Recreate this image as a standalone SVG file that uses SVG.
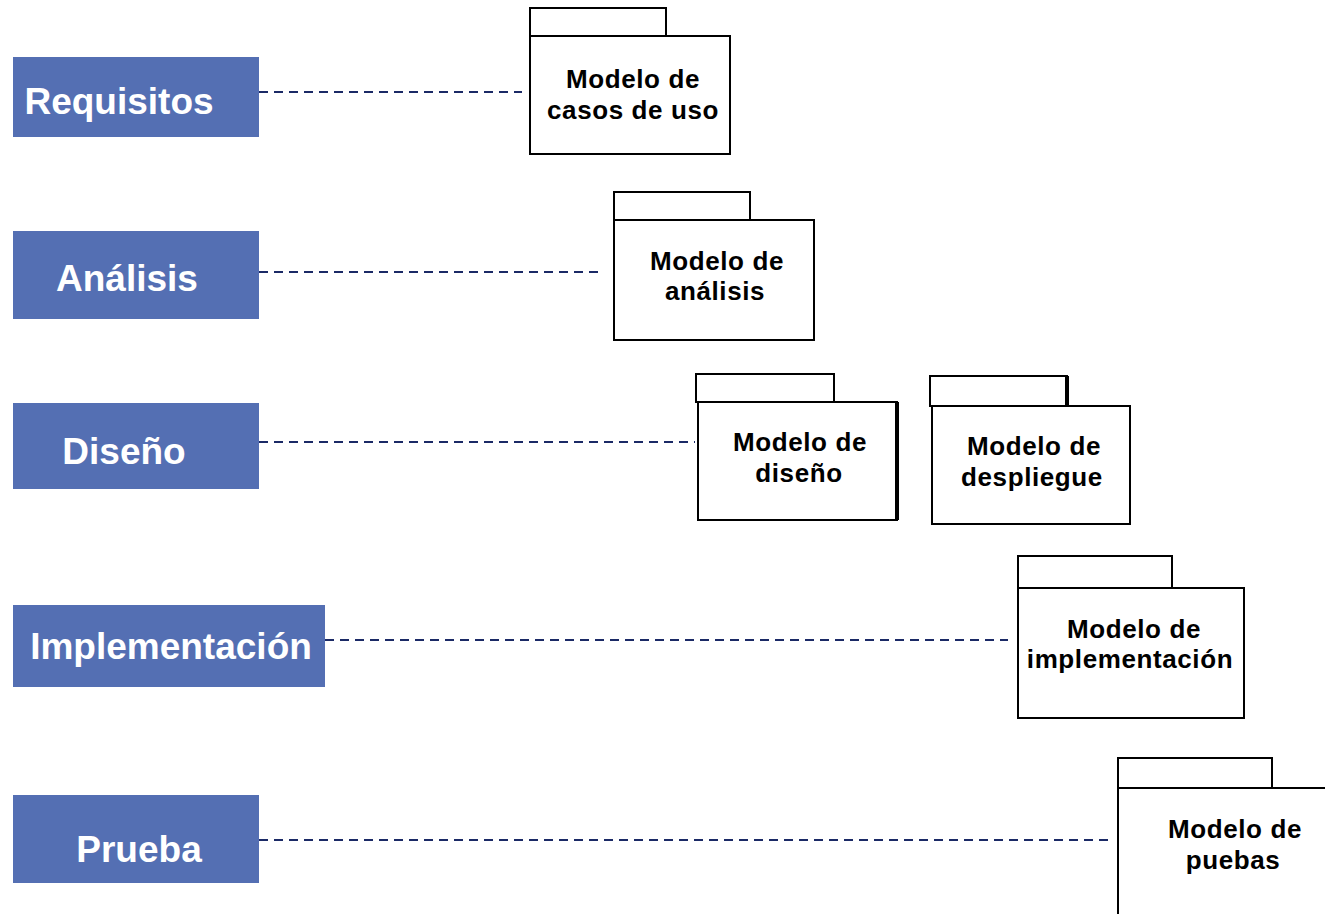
<svg xmlns="http://www.w3.org/2000/svg" width="1325" height="914" viewBox="0 0 1325 914">
<style>
.phase rect{fill:#546FB3;}
.phase text{fill:#fff;font-family:"Liberation Sans",Arial,sans-serif;font-weight:bold;font-size:37px;text-anchor:middle;}
.pkg rect{fill:#fff;stroke:#000;stroke-width:2;}
.pkg text{fill:#000;font-family:"Liberation Sans",Arial,sans-serif;font-weight:bold;font-size:26px;letter-spacing:0.6px;text-anchor:middle;}
.conn line{stroke:#1B2A66;stroke-width:2;stroke-dasharray:9 6;}
</style>
<rect width="1325" height="914" fill="#fff"/>
<g class="conn" id="connectors">
<line x1="259" y1="92" x2="522" y2="92"/>
<line x1="259" y1="272" x2="602" y2="272"/>
<line x1="259" y1="442" x2="695" y2="442"/>
<line x1="325" y1="640" x2="1008" y2="640"/>
<line x1="259" y1="840" x2="1108" y2="840"/>
</g>
<g class="phase" id="requisitos"><rect x="13" y="57" width="246" height="80"/><text x="119" y="114">Requisitos</text></g>
<g class="phase" id="analisis"><rect x="13" y="231" width="246" height="88"/><text x="127" y="291">Análisis</text></g>
<g class="phase" id="diseno"><rect x="13" y="403" width="246" height="86"/><text x="124" y="464">Diseño</text></g>
<g class="phase" id="implementacion"><rect x="13" y="605" width="312" height="82"/><text x="171" y="659">Implementación</text></g>
<g class="phase" id="prueba"><rect x="13" y="795" width="246" height="88"/><text x="139" y="862">Prueba</text></g>

<g class="pkg" id="m-casos"><rect x="530" y="8" width="136" height="28"/><rect x="530" y="36" width="200" height="118"/><text x="633" y="88">Modelo de</text><text x="633" y="119">casos de uso</text></g>
<g class="pkg" id="m-analisis"><rect x="614" y="192" width="136" height="28"/><rect x="614" y="220" width="200" height="120"/><text x="717" y="270">Modelo de</text><text x="715" y="300">análisis</text></g>
<g class="pkg" id="m-diseno"><rect x="696" y="374" width="138" height="28"/><rect x="698" y="402" width="199" height="118"/><line x1="897" y1="402" x2="897" y2="520" stroke="#000" stroke-width="4"/><text x="800" y="451">Modelo de</text><text x="799" y="482">diseño</text></g>
<g class="pkg" id="m-despliegue"><rect x="930" y="376" width="137" height="30"/><line x1="1067" y1="376" x2="1067" y2="406" stroke="#000" stroke-width="4"/><rect x="932" y="406" width="198" height="118"/><text x="1034" y="455">Modelo de</text><text x="1032" y="486">despliegue</text></g>
<g class="pkg" id="m-implementacion"><rect x="1018" y="556" width="154" height="32"/><rect x="1018" y="588" width="226" height="130"/><text x="1134" y="638">Modelo de</text><text x="1130" y="668">implementación</text></g>
<g class="pkg" id="m-pruebas"><rect x="1118" y="758" width="154" height="30"/><rect x="1118" y="788" width="220" height="140"/><text x="1235" y="838">Modelo de</text><text x="1233" y="869">puebas</text></g>
</svg>
